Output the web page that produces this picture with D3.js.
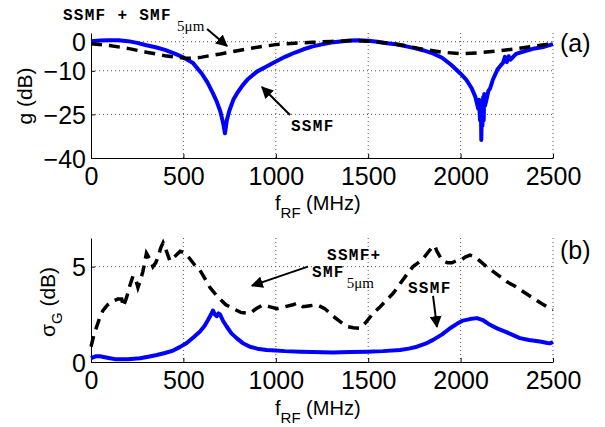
<!DOCTYPE html>
<html>
<head>
<meta charset="utf-8">
<script src="https://cdnjs.cloudflare.com/ajax/libs/d3/7.8.5/d3.min.js"></script>
<style>
  body { margin: 0; background: #fff; }
  svg text { font-family: "Liberation Sans", Arial, sans-serif; }
</style>
</head>
<body>
<script>
// frequency axis ticks (MHz)
var freqTicks = [0, 500, 1000, 1500, 2000, 2500];
var gainTicks = [0, -10, -25, -40];
var sigmaTicks = [0, 5];

// (a) normalised gain g (dB), SSMF only
var gSsmfF = [0, 50, 100, 150, 200, 250, 300, 350, 400, 450, 500, 550, 600, 630, 660, 680, 700, 715, 725, 735, 750, 770, 790, 820, 850, 900, 950, 1000, 1050, 1100, 1150, 1200, 1250, 1300, 1350, 1400, 1450, 1500, 1550, 1600, 1650, 1700, 1750, 1800, 1850, 1900, 1950, 2000, 2030, 2060, 2080, 2095, 2100, 2105, 2110, 2112, 2115, 2118, 2122, 2125, 2128, 2132, 2140, 2150, 2160, 2175, 2200, 2230, 2240, 2250, 2260, 2270, 2300, 2350, 2400, 2450, 2500];
var gSsmf = [0.2, 0.4, 0.5, 0.5, 0.2, -0.4, -1.2, -1.9, -2.8, -4.0, -5.4, -7.2, -11, -14, -17.8, -20.5, -24, -28, -31.5, -27, -23.5, -20, -17.8, -15, -12.8, -10.2, -8.5, -6.8, -5.2, -3.8, -2.6, -1.6, -0.9, -0.3, 0.1, 0.4, 0.5, 0.3, 0, -0.5, -0.9, -1.5, -2.2, -3.0, -4.0, -5.5, -8, -11, -13, -16, -19, -23, -20, -27, -22, -33.8, -24, -29, -19, -27, -18, -22, -20, -17, -16, -13, -9.5, -7.2, -5.2, -7.0, -5.0, -6.2, -4.2, -3.2, -2.3, -1.8, -0.8];

// (a) SSMF + SMF 5um
var gMixF = [0, 100, 200, 300, 400, 500, 550, 600, 650, 700, 750, 800, 850, 900, 1000, 1100, 1200, 1300, 1400, 1450, 1500, 1600, 1700, 1800, 1900, 2000, 2100, 2200, 2300, 2400, 2500];
var gMix = [-0.7, -1.3, -2.3, -3.6, -4.8, -5.6, -5.7, -5.3, -4.7, -4.2, -3.6, -3.0, -2.4, -1.9, -1.0, -0.5, -0.2, 0.1, 0.3, 0.3, 0.2, -0.4, -1.4, -2.6, -3.6, -4.1, -3.8, -3.2, -2.4, -1.5, -0.6];

// (b) gain std deviation sigma_G (dB), SSMF + SMF 5um
var sMixF = [0, 15, 31, 50, 65, 90, 119, 145, 166, 175, 193, 210, 227, 240, 254, 268, 281, 300, 318, 335, 350, 363, 378, 390, 405, 427, 450, 482, 510, 536, 560, 590, 615, 644, 670, 698, 730, 768, 810, 860, 895, 930, 965, 1006, 1050, 1093, 1120, 1147, 1185, 1223, 1265, 1310, 1350, 1385, 1420, 1455, 1490, 1526, 1565, 1601, 1635, 1672, 1710, 1742, 1770, 1796, 1820, 1845, 1860, 1872, 1890, 1904, 1930, 1953, 1975, 1997, 2025, 2051, 2080, 2104, 2140, 2175, 2210, 2251, 2290, 2321, 2360, 2392, 2440, 2484, 2500];
var sMix = [0.8, 1.4, 1.86, 2.4, 2.7, 3.0, 3.2, 3.3, 3.3, 2.9, 3.4, 4.0, 4.5, 4.4, 3.9, 4.3, 4.75, 5.7, 5.4, 5.0, 5.2, 5.5, 6.0, 6.25, 5.9, 5.3, 5.5, 5.8, 5.7, 5.4, 5.1, 4.8, 4.4, 3.9, 3.6, 3.3, 3.0, 2.8, 2.6, 2.55, 2.8, 3.0, 2.9, 2.8, 2.9, 3.0, 3.1, 2.9, 2.95, 3.0, 2.8, 2.4, 2.1, 1.86, 1.8, 1.77, 2.1, 2.55, 2.9, 3.26, 3.6, 4.1, 4.6, 5.0, 5.2, 5.4, 5.7, 6.0, 6.1, 5.8, 5.5, 5.3, 5.2, 5.2, 5.3, 5.3, 5.5, 5.6, 5.5, 5.3, 5.0, 4.75, 4.5, 4.2, 4.0, 3.8, 3.55, 3.35, 3.05, 2.8, 2.75];

// (b) SSMF only
var sSsmfF = [0, 25, 49, 75, 103, 130, 157, 200, 265, 310, 356, 400, 444, 480, 518, 555, 590, 615, 633, 650, 660, 670, 680, 690, 698, 715, 734, 760, 788, 820, 860, 900, 950, 1000, 1050, 1131, 1200, 1310, 1400, 1493, 1580, 1672, 1720, 1764, 1810, 1851, 1900, 1943, 1980, 2013, 2050, 2088, 2120, 2159, 2200, 2251, 2290, 2321, 2370, 2429, 2470, 2484, 2500];
var sSsmf = [0.2, 0.3, 0.3, 0.25, 0.2, 0.15, 0.14, 0.15, 0.2, 0.28, 0.37, 0.47, 0.6, 0.78, 1.0, 1.3, 1.6, 1.9, 2.2, 2.5, 2.7, 2.5, 2.4, 2.55, 2.5, 2.15, 1.86, 1.5, 1.25, 1.0, 0.8, 0.7, 0.63, 0.6, 0.57, 0.54, 0.52, 0.5, 0.52, 0.54, 0.57, 0.63, 0.7, 0.8, 0.96, 1.16, 1.45, 1.77, 2.0, 2.17, 2.25, 2.3, 2.2, 1.95, 1.75, 1.55, 1.38, 1.25, 1.15, 1.07, 1.0, 0.98, 1.05];

var width = 605,
    height = 427;

var svg = d3.select("body").append("svg")
    .attr("width", width)
    .attr("height", height);

svg.append("defs").append("marker")
    .attr("id", "head")
    .attr("viewBox", "0 0 10 10")
    .attr("refX", 9).attr("refY", 5)
    .attr("markerWidth", 12).attr("markerHeight", 12)
    .attr("markerUnits", "userSpaceOnUse")
    .attr("orient", "auto")
  .append("path")
    .attr("d", "M0,0 L10,5 L0,10 z")
    .attr("fill", "#000");

// shared x scale, both panels
var x = d3.scaleLinear().domain([0, 2500]).range([91, 553]);

var yA = d3.scaleLinear().domain([-40, 3]).range([158, 33]);
var yB = d3.scaleLinear().domain([0, 6.5]).range([362, 238]);

var fmt = d3.format("d");

function zip(f, v) { return f.map(function(d, i) { return [d, v[i]]; }); }

function panel(y, yTicks, top, bottom) {
  var g = svg.append("g");

  // dotted grid
  g.selectAll(".gx").data(freqTicks.slice(1)).enter().append("line")
      .attr("x1", x).attr("x2", x)
      .attr("y1", top).attr("y2", bottom)
      .attr("stroke", "#555").attr("stroke-width", 1)
      .attr("stroke-dasharray", "1,3");
  g.selectAll(".gy").data(yTicks.filter(function(d) { return d !== y.domain()[0]; })).enter().append("line")
      .attr("x1", 91).attr("x2", 553)
      .attr("y1", y).attr("y2", y)
      .attr("stroke", "#555").attr("stroke-width", 1)
      .attr("stroke-dasharray", "1,3");

  var ax = g.append("g").attr("transform", "translate(0," + bottom + ")")
      .call(d3.axisBottom(x).tickValues(freqTicks).tickFormat(fmt).tickSizeInner(-4).tickSizeOuter(0).tickPadding(9));
  var ay = g.append("g").attr("transform", "translate(91,0)")
      .call(d3.axisLeft(y).tickValues(yTicks).tickFormat(fmt).tickSizeInner(-4).tickSizeOuter(0).tickPadding(5));
  [ax, ay].forEach(function(a) {
    a.select(".domain").attr("stroke", "#000");
    a.selectAll("text").attr("font-size", 25).attr("fill", "#000")
        .style("font-family", "Liberation Sans, Arial, sans-serif");
  });
  ax.selectAll("text").attr("dy", "0.71em");
  ay.selectAll("text").attr("dy", "0.36em");
  return g;
}

var pa = panel(yA, gainTicks, 33, 158);
var pb = panel(yB, sigmaTicks, 238, 362);

var line = function(y) {
  return d3.line().x(function(d) { return x(d[0]); }).y(function(d) { return y(d[1]); });
};

// (a) curves
svg.append("path").datum(zip(gSsmfF, gSsmf))
    .attr("d", line(yA)).attr("fill", "none")
    .attr("stroke", "#0000ff").attr("stroke-width", 4).attr("stroke-linejoin", "round");
svg.append("path").datum(zip(gMixF, gMix))
    .attr("d", line(yA)).attr("fill", "none")
    .attr("stroke", "#000").attr("stroke-width", 3.5).attr("stroke-dasharray", "11,7");

// (b) curves
svg.append("path").datum(zip(sSsmfF, sSsmf))
    .attr("d", line(yB)).attr("fill", "none")
    .attr("stroke", "#0000ff").attr("stroke-width", 4).attr("stroke-linejoin", "round");
svg.append("path").datum(zip(sMixF, sMix))
    .attr("d", line(yB)).attr("fill", "none")
    .attr("stroke", "#000").attr("stroke-width", 3.5).attr("stroke-dasharray", "11,7");

// axis labels
function xlabel(yb) {
  var t = svg.append("text").attr("x", 275).attr("y", yb).attr("font-size", 20);
  t.append("tspan").text("f");
  t.append("tspan").attr("dy", 8).attr("font-size", 15).text("RF");
  t.append("tspan").attr("dy", -8).text(" (MHz)");
}
xlabel(210);
xlabel(415);

svg.append("text").attr("transform", "translate(32,96) rotate(-90)")
    .attr("text-anchor", "middle").attr("font-size", 21).text("g (dB)");
var sl = svg.append("text").attr("transform", "translate(55,302) rotate(-90)")
    .attr("text-anchor", "middle").attr("font-size", 21);
sl.append("tspan").text("σ");
sl.append("tspan").attr("dy", 7).attr("font-size", 15).text("G");
sl.append("tspan").attr("dy", -7).text(" (dB)");

svg.append("text").attr("x", 560).attr("y", 52).attr("font-size", 25).text("(a)");
svg.append("text").attr("x", 560).attr("y", 259).attr("font-size", 25).text("(b)");

// annotations
function mono(px, py, s) {
  return svg.append("text").attr("x", px).attr("y", py)
      .attr("font-size", 16).attr("font-weight", "bold")
      .attr("letter-spacing", 1.3)
      .style("font-family", "Liberation Mono, Courier New, monospace").text(s);
}
function sub(px, py) {
  svg.append("text").attr("x", px).attr("y", py).attr("font-size", 15)
      .style("font-family", "Liberation Serif, Times New Roman, serif").text("5μm");
}
function arrow(x1, y1, x2, y2) {
  svg.append("line").attr("x1", x1).attr("y1", y1).attr("x2", x2).attr("y2", y2)
      .attr("stroke", "#000").attr("stroke-width", 2).attr("marker-end", "url(#head)");
}

mono(x(-152), yA(7.5), "SSMF + SMF");
sub(x(466), yA(3.6));
arrow(x(628), yA(4.4), x(736), yA(-1.5));

mono(x(1082), yA(-30.7), "SSMF");
arrow(x(1077), yA(-25.2), x(925), yA(-15.6));

mono(x(1277), yB(5.37), "SSMF+");
mono(x(1196), yB(4.47), "SMF");
sub(x(1384), yB(3.9));
arrow(x(1174), yB(5.0), x(871), yB(4.0));

mono(x(1715), yB(3.63), "SSMF");
arrow(x(1851), yB(3.47), x(1872), yB(1.84));
</script>
</body>
</html>
